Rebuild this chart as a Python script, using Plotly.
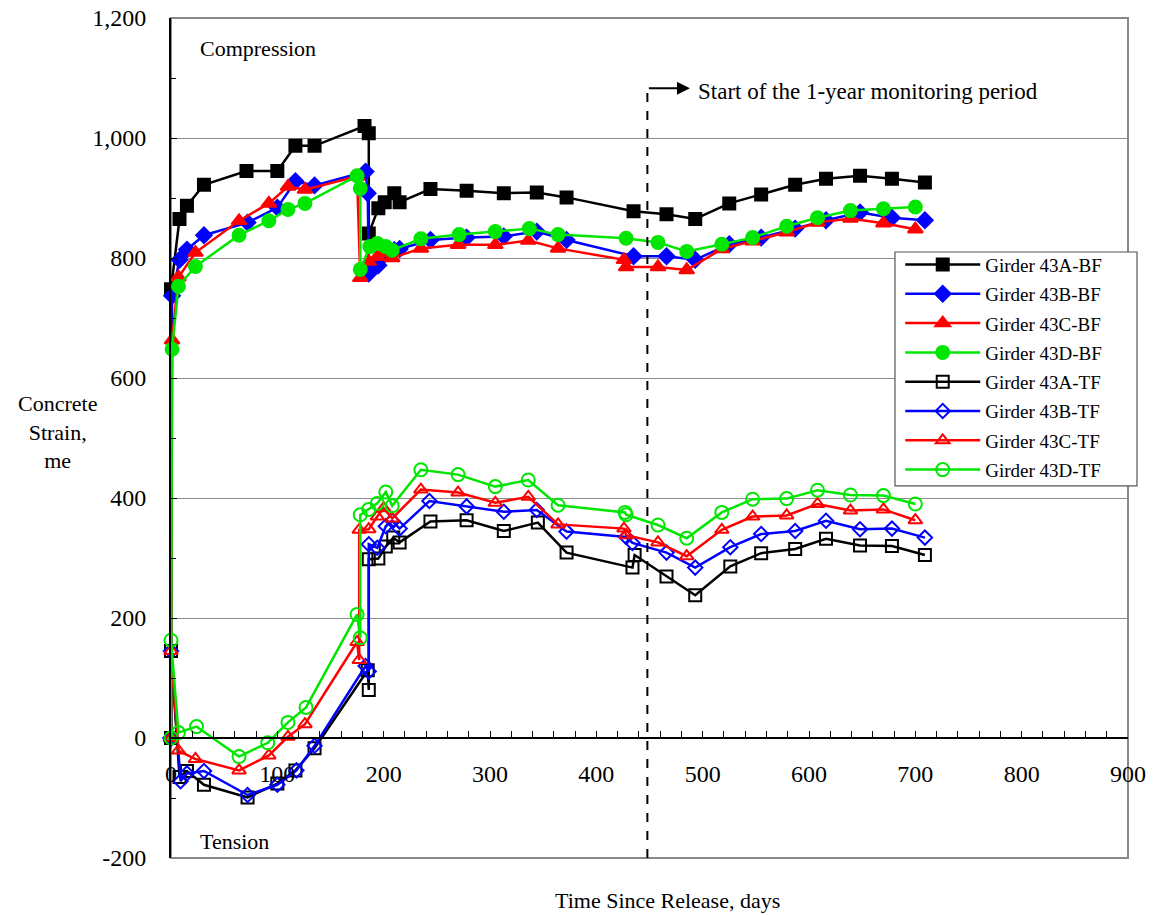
import plotly.graph_objects as go

# ---- data (days since release, concrete strain in microstrain) ----
a_bf_x = [0, 0, 8, 15, 31, 71, 100, 117, 135, 182, 186, 186, 195, 201, 210, 215, 244, 278, 313, 344, 372, 435, 466, 493, 525, 555, 587, 616, 648, 678, 709]
a_bf_y = [0, 748, 865, 887, 922, 945, 945, 987, 987, 1020, 1008, 841, 883, 893, 908, 893, 915, 912, 908, 909, 901, 878, 873, 865, 891, 906, 922, 932, 937, 932, 926]

b_bf_x = [0, 1, 8, 15, 31, 72, 100, 117, 135, 183, 185, 186, 195, 201, 210, 215, 244, 278, 313, 344, 372, 435, 466, 493, 525, 555, 587, 616, 648, 678, 709]
b_bf_y = [0, 737, 797, 814, 838, 859, 884, 928, 921, 944, 908, 774, 788, 806, 813, 815, 830, 834, 836, 844, 830, 803, 803, 797, 823, 834, 849, 863, 876, 867, 863]

c_bf_x = [0, 1, 7, 23, 64, 92, 110, 126, 175, 178, 186, 194, 200, 208, 235, 270, 305, 336, 364, 426, 428, 458, 485, 518, 547, 579, 608, 639, 670, 700]
c_bf_y = [0, 663, 768, 809, 862, 891, 919, 914, 936, 767, 794, 802, 808, 800, 816, 822, 822, 829, 816, 797, 785, 785, 780, 815, 828, 843, 859, 866, 858, 848]

d_bf_x = [0, 1, 7, 23, 64, 92, 110, 126, 175, 178, 178, 187, 194, 202, 208, 235, 271, 305, 337, 364, 428, 458, 485, 518, 547, 579, 608, 639, 670, 700]
d_bf_y = [0, 648, 753, 786, 838, 862, 881, 891, 937, 916, 781, 819, 824, 819, 813, 832, 839, 844, 849, 839, 833, 826, 811, 823, 834, 853, 867, 879, 882, 885]

a_tf_x = [0, 0, 8, 15, 31, 72, 100, 117, 135, 185, 186, 186, 195, 202, 209, 215, 244, 278, 313, 345, 372, 434, 436, 466, 493, 526, 555, 587, 616, 648, 678, 709]
a_tf_y = [0, 145, -65, -55, -78, -99, -76, -54, -17, 113, 80, 298, 299, 319, 334, 326, 361, 363, 345, 359, 309, 284, 305, 269, 238, 286, 308, 315, 332, 321, 320, 305]

b_tf_x = [0, 0, 9, 15, 31, 72, 100, 118, 135, 183, 186, 186, 194, 202, 208, 215, 243, 278, 313, 344, 372, 428, 434, 466, 493, 526, 555, 587, 616, 648, 678, 709]
b_tf_y = [0, 145, -72, -59, -55, -95, -78, -54, -13, 120, 111, 323, 317, 353, 362, 349, 395, 386, 377, 380, 344, 335, 325, 309, 284, 318, 340, 345, 362, 348, 349, 334]

c_tf_x = [0, 0, 7, 23, 64, 92, 110, 126, 175, 177, 177, 186, 194, 200, 208, 235, 270, 305, 336, 364, 426, 428, 458, 485, 518, 547, 579, 608, 639, 670, 700]
c_tf_y = [0, 145, -21, -35, -54, -29, 2, 23, 160, 130, 347, 348, 369, 383, 366, 414, 409, 392, 402, 356, 349, 338, 326, 303, 347, 369, 371, 390, 379, 381, 363]

d_tf_x = [0, 0, 7, 24, 64, 91, 110, 127, 175, 178, 178, 186, 194, 202, 208, 235, 270, 305, 336, 364, 427, 428, 458, 485, 518, 547, 579, 608, 639, 670, 700]
d_tf_y = [0, 163, 9, 19, -31, -8, 26, 51, 206, 167, 372, 381, 391, 410, 387, 447, 439, 419, 430, 388, 376, 372, 355, 333, 376, 398, 399, 413, 405, 404, 390]

series_names = ["Girder 43A-BF", "Girder 43B-BF", "Girder 43C-BF", "Girder 43D-BF",
                "Girder 43A-TF", "Girder 43B-TF", "Girder 43C-TF", "Girder 43D-TF"]

y_tick_vals = [-200, 0, 200, 400, 600, 800, 1000, 1200]
y_tick_text = ["-200", "0", "200", "400", "600", "800", "1,000", "1,200"]
x_tick_vals = [0, 100, 200, 300, 400, 500, 600, 700, 800, 900]

monitor_start_day = 448

# ---- styling ----
BLACK, BLUE, RED, GREEN = "#000000", "#0000FF", "#FF0000", "#00E600"
FONT = "Liberation Serif, Times New Roman, serif"

styles = [
    (BLACK, "square", 12), (BLUE, "diamond", 12), (RED, "triangle-up", 13), (GREEN, "circle", 13),
    (BLACK, "square-open", 12), (BLUE, "diamond-open", 11), (RED, "triangle-up-open", 12), (GREEN, "circle-open", 13),
]
data = [(a_bf_x, a_bf_y), (b_bf_x, b_bf_y), (c_bf_x, c_bf_y), (d_bf_x, d_bf_y),
        (a_tf_x, a_tf_y), (b_tf_x, b_tf_y), (c_tf_x, c_tf_y), (d_tf_x, d_tf_y)]

fig = go.Figure()
for i, ((xs, ys), (col, sym, sz), name) in enumerate(zip(data, styles, series_names)):
    fig.add_trace(go.Scatter(
        x=xs, y=ys, mode="lines+markers", name=name, legendgroup=f"g{i}",
        line=dict(color=col, width=2.5),
        marker=dict(symbol=sym, size=sz, color=col, line=dict(color=col, width=2)),
        cliponaxis=False,
    ))

# page body has an 8px margin, so the figure is 8px smaller each way
fig.update_layout(
    width=1148, height=907,
    margin=dict(l=163, r=28, t=10, b=57, autoexpand=False),
    paper_bgcolor="white", plot_bgcolor="white",
    font=dict(family=FONT, size=21, color="black"),
    showlegend=True,
    legend=dict(
        x=0.762, y=0.729, xanchor="left", yanchor="top",
        bgcolor="rgba(0,0,0,0)", borderwidth=0,
        font=dict(family=FONT, size=19, color="black"),
        tracegroupgap=1.6, itemwidth=75,
    ),
    xaxis=dict(
        range=[0, 900], tickvals=x_tick_vals, anchor="free", position=1/7,
        showline=True, linecolor="black", linewidth=1.5,
        ticks="inside", ticklen=6, tickcolor="black",
        minor=dict(ticks="inside", dtick=20, ticklen=6, tickcolor="black"),
        showgrid=False, zeroline=False, ticklabeloverflow="allow", ticklabelstandoff=14,
        tickfont=dict(family=FONT, size=24),
    ),
    yaxis=dict(
        range=[-200, 1200], tickvals=y_tick_vals, ticktext=y_tick_text,
        showline=True, linecolor="black", linewidth=2,
        ticks="inside", ticklen=6, tickcolor="black",
        minor=dict(ticks="inside", dtick=100, ticklen=5, tickcolor="black", showgrid=False),
        showgrid=True, gridcolor="#8c8c8c", gridwidth=1, zeroline=False, ticklabeloverflow="allow",
        ticklabelstandoff=18,
        tickfont=dict(family=FONT, size=24),
    ),
)

# plot frame (gray)
fig.add_shape(type="rect", xref="paper", yref="paper", x0=0, x1=1, y0=0, y1=1,
              line=dict(color="#888888", width=2), layer="below")

# legend frame (wider than plotly's own legend box)
fig.add_shape(type="rect", xref="paper", yref="paper", x0=0.7565, x1=1.0094, y0=0.443, y1=0.7214,
              line=dict(color="#555555", width=1.2), fillcolor="white", layer="above")

# dashed vertical line for monitoring start
fig.add_shape(type="line", xref="x", yref="y", x0=monitor_start_day, x1=monitor_start_day,
              y0=-200, y1=1083, line=dict(color="black", width=2, dash="dash"))
fig.add_annotation(x=monitor_start_day + 40, y=1083, ax=monitor_start_day, ay=1083,
                   xref="x", yref="y", axref="x", ayref="y", text="",
                   showarrow=True, arrowhead=2, arrowsize=1.3, arrowwidth=2, arrowcolor="black")
fig.add_annotation(x=monitor_start_day + 46, y=1077, xref="x", yref="y", text="Start of the 1-year monitoring period",
                   showarrow=False, xanchor="left", yanchor="middle", font=dict(family=FONT, size=23))

fig.add_annotation(x=25, y=1150, xref="x", yref="y", text="Compression", showarrow=False,
                   xanchor="left", yanchor="middle", font=dict(family=FONT, size=22))
fig.add_annotation(x=25, y=-173, xref="x", yref="y", text="Tension", showarrow=False,
                   xanchor="left", yanchor="middle", font=dict(family=FONT, size=22))

# axis titles
fig.add_annotation(x=0.519, y=-0.05, xref="paper", yref="paper", text="Time Since Release, days",
                   showarrow=False, xanchor="center", yanchor="middle", font=dict(family=FONT, size=22))
fig.add_annotation(x=-0.119, y=0.507, xref="paper", yref="paper", text="Concrete<br>Strain,<br>me",
                   showarrow=False, xanchor="center", yanchor="middle", font=dict(family=FONT, size=22))

fig.write_html("out.html")
